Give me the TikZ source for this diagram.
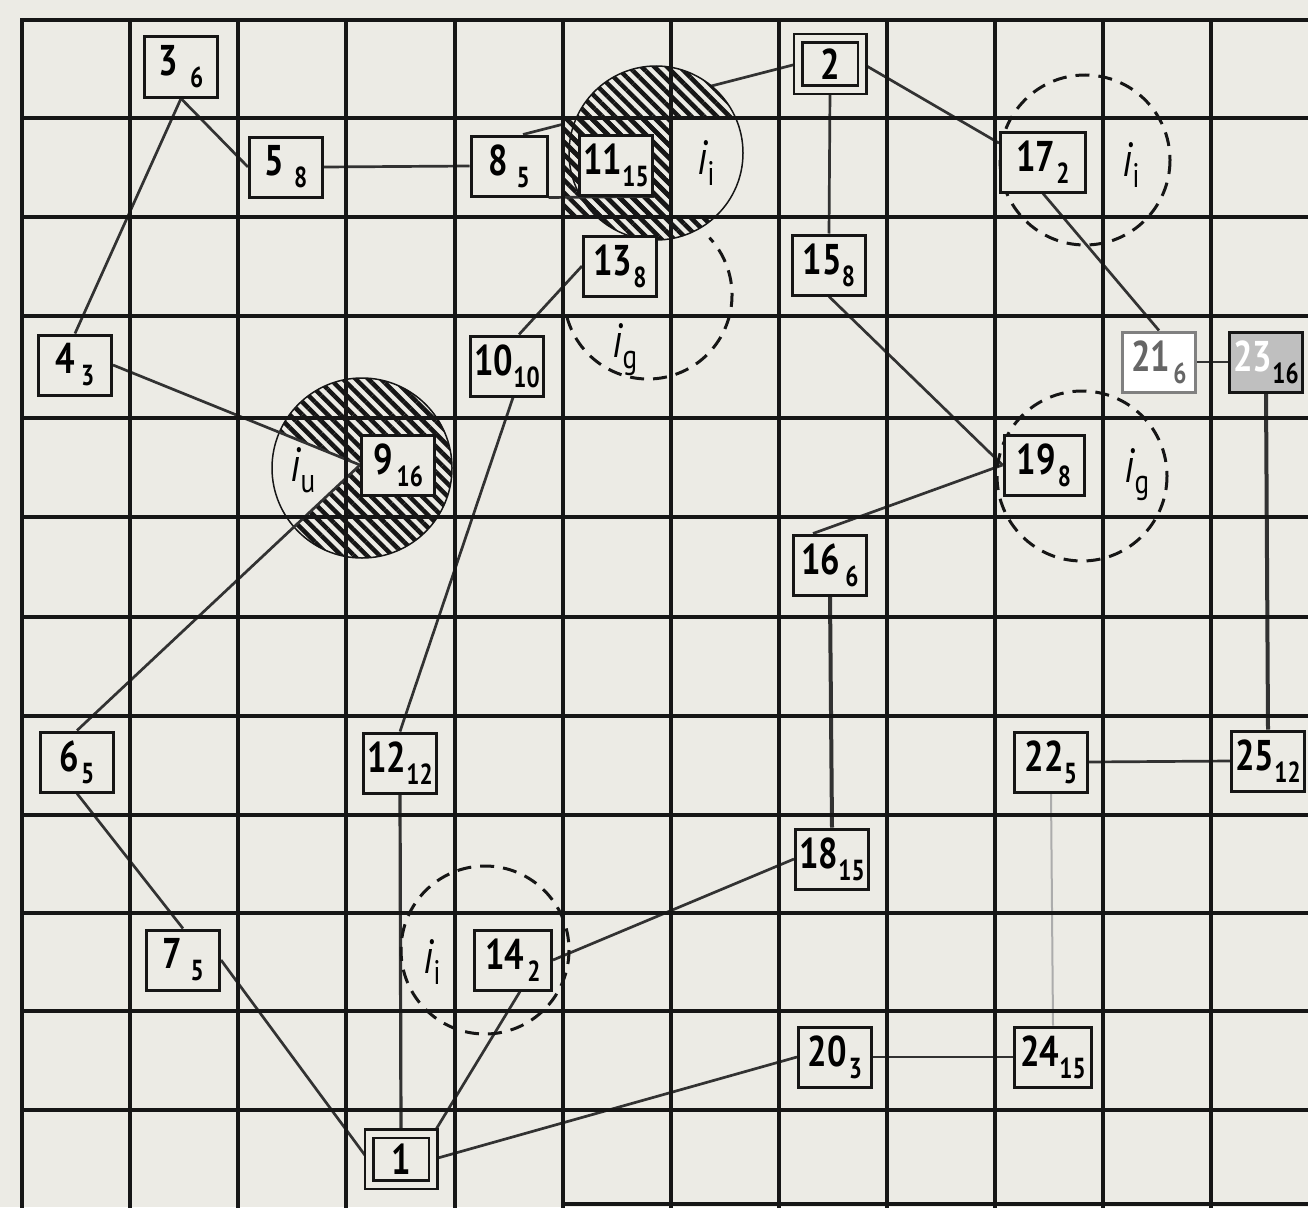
\documentclass[tikz,border=0pt]{standalone}
\usepackage{fontspec}
\setmainfont{PT Sans}
\newfontfamily\dfont{PT Sans}[FakeStretch=0.8]
\usetikzlibrary{patterns.meta,calc}
\definecolor{bgc}{RGB}{236,235,229}
\definecolor{ink}{RGB}{22,22,22}
\definecolor{edgec}{RGB}{50,50,50}
\pgfdeclarelayer{bg}
\pgfsetlayers{bg,main}
\newcommand\nlab[3][6pt]{{\fontsize{43}{43}\selectfont #2}\hspace{#1}\raisebox{-12pt}{\fontsize{29}{29}\selectfont #3}}
\newcommand\ilab[1]{{\fontsize{48}{48}\selectfont\itshape i}\raisebox{-11pt}{\fontsize{34}{34}\selectfont #1}}
\begin{document}
\begin{tikzpicture}[x=1pt,y=-1pt,
  box/.style={draw=ink,line width=3pt,fill=bgc,minimum width=73pt,minimum height=60pt,inner sep=0pt,font=\dfont\bfseries},
  dbox/.style={draw=ink,line width=2.5pt,double=bgc,double distance=6pt,fill=bgc,minimum width=64pt,minimum height=51pt,inner sep=0pt,font=\dfont\bfseries\fontsize{43}{43}\selectfont},
  link/.style={draw=edgec,line width=2.7pt},
  gridl/.style={draw=ink,line width=4pt,line cap=rect},
  dcirc/.style={draw=ink,line width=3pt,dash pattern=on 14pt off 9pt},
  hatch/.style={pattern={Lines[angle=-45,distance=9pt,line width=4.5pt]},pattern color=ink},
  lbl/.style={inner sep=0pt,font=\dfont}
]
\useasboundingbox (0,0) rectangle (1308,1207);

% nodes
\node[box] (n3) at (181,67) {\nlab[12pt]{3}{6}};
\node[box] (n5) at (286,167) {\nlab[10pt]{5}{8}};
\node[box] (n4) at (75,365) {\nlab[6pt]{4}{3}};
\node[box,minimum width=76pt] (n8) at (509,166) {\nlab[9pt]{8}{5}};
\node[box] (n11) at (616,165) {\nlab[0pt]{11}{15}};
\node[dbox] (n2) at (830,64) {2};
\node[box] (n13) at (620,266) {\nlab[1pt]{13}{8}};
\node[box] (n10) at (507,366) {\nlab[0pt]{10}{10}};
\node[box] (n15) at (829,265) {\nlab[0pt]{15}{8}};
\node[box,minimum width=85pt] (n17) at (1043,162) {\nlab[1pt]{17}{2}};
\node[box,fill=white,draw=gray] (n21) at (1159,362) {\color{gray!80!black}\nlab[3pt]{21}{6}};
\node[box,fill=gray!50] (n23) at (1266,362) {\nlab[0pt]{\color{white}23}{16}};
\node[box] (n9) at (398,465) {\nlab[4pt]{9}{16}};
\node[box,minimum width=80pt] (n19) at (1044,465) {\nlab[2pt]{19}{8}};
\node[box] (n16) at (830,565) {\nlab[5pt]{16}{6}};
\node[box] (n6) at (77,762) {\nlab[2pt]{6}{5}};
\node[box] (n12) at (400,763) {\nlab[0pt]{12}{12}};
\node[box] (n22) at (1051,762) {\nlab[0pt]{22}{5}};
\node[box] (n25) at (1268,761) {\nlab[0pt]{25}{12}};
\node[box] (n18) at (832,859) {\nlab[0pt]{18}{15}};
\node[box,minimum width=77pt] (n14) at (513,960) {\nlab[3pt]{14}{2}};
\node[box] (n20) at (835,1057) {\nlab[2pt]{20}{3}};
\node[box,minimum width=77pt] (n24) at (1053,1057) {\nlab[0pt]{24}{15}};
\node[box] (n7) at (183,960) {\nlab[9pt]{7}{5}};
\node[dbox] (n1) at (401,1159) {1};

% labels
\node[lbl] (li1) at (706,163) {\ilab{i}};
\node[lbl] (lg1) at (625,350) {\ilab{g}};
\node[lbl] (li2) at (1131,165) {\ilab{i}};
\node[lbl] (lg2) at (1137,475) {\ilab{g}};
\node[lbl] (lu) at (303,470) {\ilab{u}};
\node[lbl] (li3) at (432,962) {\ilab{i}};

\begin{pgfonlayer}{bg}
\fill[bgc] (0,0) rectangle (1308,1207);
% connectors
\draw[link] (n3.south) -- (n5.west);
\draw[link] (n3.south) -- (n4.north);
\draw[link] (n5.east) -- (n8.west);
\draw[link] ([xshift=14pt]n8.north) -- (n2.west);
\draw[link] (n13.west) -- ([xshift=12pt]n10.north);
\draw[link] ([xshift=6pt]n10.south) -- (n12.north);
\draw[link,line width=3.2pt] (n12.south) -- (n1.north);
\draw[link] (n2.south) -- (n15.north);
\draw[link] (n2.east) -- ($(n17.west)!0.6!(n17.north west)$);
\draw[link] (n17.south) -- (n21.north);
\draw[link] (n21.east) -- (n23.west);
\draw[link,line width=4pt] (n23.south) -- (n25.north);
\draw[link] (n22.east) -- (n25.west);
\draw[gray!65,line width=2pt] (n22.south) -- (n24.north);
\draw[link] (n20.east) -- (n24.west);
\draw[link] (n1.east) -- (n20.west);
\draw[link] (n1.north east) -- ([xshift=7pt]n14.south);
\draw[link] (n14.east) -- (n18.west);
\draw[link,line width=4pt] (n16.south) -- (n18.north);
\draw[link] ([xshift=-17pt]n16.north) -- (n19.west);
\draw[link] (n15.south) -- (n19.west);
\draw[link] (n6.south) -- (n7.north);
\draw[link] (n7.east) -- (n1.west);
% hatched zone around 11
\fill[bgc] (656,153) circle[radius=87];
\fill[bgc] (563,118) rectangle (671,217);
\path[hatch] (656,153) circle[radius=87];
\path[hatch] (563,118) rectangle (671,217);
\begin{scope}
\clip (656,153) circle[radius=87];
\fill[bgc] (671,118) rectangle (779,217);
\end{scope}
\draw[ink,line width=1.5pt] (656,153) circle[radius=87];
\draw[link] (n8.south east) -- (n11.south east);
% hatched zone around 9
\fill[bgc] (362,468) circle[radius=90];
\path[hatch] (362,468) circle[radius=90];
\begin{scope}
\clip (362,468) circle[radius=90];
\fill[bgc] (n9.west) -- (n4.east) -- (n6.north) -- cycle;
\end{scope}
\draw[ink,line width=1.5pt] (362,468) circle[radius=90];
\draw[link] (n4.east) -- (n9.west);
\draw[link] (n6.north) -- (n9.west);
% grid
\foreach \x in {22,130,238,346,455,563,671,779,887,995,1103,1211}
  \draw[gridl] (\x,20) -- (\x,1207);
\foreach \y in {20,118,217,316,418,517,617,716,815,913,1011,1110}
  \draw[gridl] (22,\y) -- (1308,\y);
\draw[gridl] (563,1204) -- (1308,1204);
% dashed zones
\draw[dcirc] (1085,160) circle[radius=85];
\draw[dcirc] (1082,476) circle[radius=85];
\draw[dcirc] (485,950) circle[radius=84];
\draw[dcirc] (648,295) ++(-195:84) arc[start angle=-195,end angle=-403,radius=84];
\end{pgfonlayer}
\end{tikzpicture}
\end{document}
